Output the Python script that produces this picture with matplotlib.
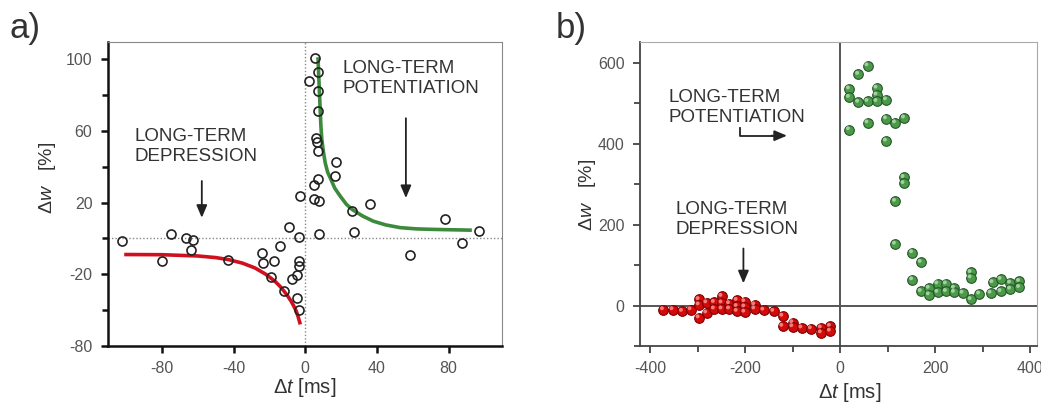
import matplotlib
matplotlib.use("Agg")
import matplotlib.pyplot as plt
from matplotlib.transforms import offset_copy

plt.rcParams["font.family"] = ["Liberation Sans", "DejaVu Sans"]
plt.rcParams["mathtext.fontset"] = "custom"
plt.rcParams["mathtext.rm"] = "Liberation Sans"
plt.rcParams["mathtext.it"] = "Liberation Sans:italic"
plt.rcParams["axes.unicode_minus"] = False

# ---- panel a: measured points (open circles) ----
a_x = [-102, -80, -75, -66.6, -62.7, -63.7, -43.2, -23.9, -23.3, -17.2, -19.2,
       -14, -11.6, -8.9, -7.4, -4.3, -3.7, -3.4, -3.4, -4.3, -3.4, -3.0,
       1.9, 5.6, 6.9, 7.1, 7.3, 5.8, 6.7, 7.3, 7.3, 4.7, 17.1, 16.4, 4.7, 7.5,
       35.9, 26.4, 27, 7.8, 77.8, 96.8, 87.5, 58.3]
a_y = [-1.5, -12.6, 2.2, 0, -1.1, -6.7, -12.2, -8, -13.9, -12.6, -21.3,
       -4.3, -29.3, 6.5, -22.8, -20.4, -12.6, -15.4, 0.7, -33.3, -40, 23.5,
       88, 100.4, 93, 82, 71, 56, 53.7, 49, 33, 30, 42.8, 34.6, 21.7, 20.7,
       18.9, 15.2, 3.7, 2.6, 10.9, 4.1, -2.4, -9.4]

# fitted curves, points
ltd_fit_x = [-100, -80, -60, -50, -43, -35, -28, -22, -17, -14, -12, -10, -8, -6.5, -5, -4, -3]
ltd_fit_y = [-9, -9.1, -9.8, -10.7, -11.8, -13.8, -16.5, -20, -23.8, -26.8, -29.2,
             -31.8, -34.8, -37.5, -40.5, -43.5, -47]
ltp_fit_x = [7.2, 7.5, 7.8, 8.1, 8.4, 8.8, 9.3, 10.2, 11.2, 12.5, 14, 16.5, 19.6,
             23, 26.4, 32, 38, 45, 53, 62, 72, 82, 92]
ltp_fit_y = [100, 92, 85, 78, 71, 62, 55, 48, 42, 37, 33.7, 28, 23.5,
             19, 16, 12.5, 9.6, 7.5, 6, 5.3, 5, 4.8, 4.6]

# ---- panel b: measured points (spheres) ----
b_ltd_x = [-372, -352, -332, -314, -297, -297, -297, -281, -281, -265, -265,
           -249, -249, -249, -233, -233, -217, -217, -217, -201, -201, -201,
           -180, -180, -161, -140, -121, -121, -100, -100, -81, -61, -40, -40, -21, -21]
b_ltd_y = [-10, -10, -14, -10, 15, 2, -30, 7, -18, 8, -8,
           23, 7, -8, 5, -8, 13, -2, -14, 10, -3, -16,
           2, -8, -11, -14, -26, -51, -42, -52, -55, -57, -55, -67, -51, -63]
b_ltp_x = [58, 38.5, 19, 19, 38.5, 58, 77, 77, 77, 97, 19, 58, 97, 116, 135, 97,
           134, 134, 116, 116, 152, 170, 152, 170, 187, 187, 205, 205, 223, 223,
           240, 240, 258, 275, 275, 275, 293, 317, 321, 338, 338, 358, 358, 377, 377]
b_ltp_y = [593, 572, 536, 515, 503, 505, 538, 521, 505, 509, 435, 452, 462, 452, 464, 407,
           317, 302, 258, 152, 131, 107, 64, 35, 43, 27, 54, 33, 54, 35,
           43, 33, 31, 82, 69, 15, 29, 31, 57, 65, 35, 56, 41, 60, 45]

TEXT_COLOR = "#333333"
TICK_COLOR = "#555555"
ARROW = dict(arrowstyle="-|>,head_length=0.75,head_width=0.32",
             color="#222222", lw=1.3, shrinkA=0, shrinkB=0)


def style_axes(ax, main_color, main_width, frame_color):
    for side in ("left", "bottom"):
        ax.spines[side].set_color(main_color)
        ax.spines[side].set_linewidth(main_width)
    for side in ("top", "right"):
        ax.spines[side].set_color(frame_color)
        ax.spines[side].set_linewidth(0.8)
    ax.tick_params(which="both", direction="out", top=False, right=False,
                   color=main_color, labelcolor=TICK_COLOR, labelsize=11.5)
    ax.tick_params(which="major", length=5, width=main_width, pad=6)
    ax.tick_params(which="minor", length=4, width=main_width)


def spheres(ax, x, y, face, edge, light):
    ax.scatter(x, y, s=48, color=face, edgecolors=edge, linewidths=0.8, zorder=3)
    hl = offset_copy(ax.transData, fig=ax.figure, x=-1.0, y=1.0, units="points")
    ax.scatter(x, y, s=8, color=light, edgecolors="none", alpha=0.8,
               transform=hl, zorder=4)


fig = plt.figure(figsize=(10.41, 4.05), dpi=100)
ax_a = fig.add_axes([0.1035, 0.1457, 0.379, 0.751])
ax_b = fig.add_axes([0.6148, 0.1457, 0.3818, 0.751])

# ---------------- panel a ----------------
ax_a.set_xlim(-110.2, 110)
ax_a.set_ylim(-59.5, 109.6)
ax_a.axhline(0, color="#888888", lw=1.0, ls=(0, (1, 1.5)), zorder=1)
ax_a.axvline(0, color="#888888", lw=1.0, ls=(0, (1, 1.5)), zorder=1)
ax_a.plot(ltd_fit_x, ltd_fit_y, color="#d0101e", lw=2.6, zorder=2)
ax_a.plot(ltp_fit_x, ltp_fit_y, color="#3c8a3c", lw=2.6, zorder=2)
ax_a.plot(a_x, a_y, ls="none", marker="o", ms=6.5, mfc="none", mec="#222222",
          mew=1.2, zorder=3)
style_axes(ax_a, "#111111", 1.8, "#888888")
ax_a.set_xticks([-80, -40, 0, 40, 80])
ax_a.set_yticks([100, 60, 20, -20, -60])
ax_a.set_yticklabels(["100", "60", "20", "-20", "-80"])
ax_a.set_yticks([80, 40, 0, -40], minor=True)

ax_a.text(-95.5, 61.5, "LONG-TERM\nDEPRESSION", ha="left", va="top",
          fontsize=13.5, color=TEXT_COLOR, linespacing=1.25)
ax_a.text(20.8, 99.5, "LONG-TERM\nPOTENTIATION", ha="left", va="top",
          fontsize=13.5, color=TEXT_COLOR, linespacing=1.25)
ax_a.annotate("", xy=(-57.7, 11.5), xytext=(-57.7, 32), arrowprops=ARROW)
ax_a.annotate("", xy=(56.2, 22.5), xytext=(56.2, 67), arrowprops=ARROW)
ax_a.set_xlabel("Δ$t$ [ms]", fontsize=14.5, color=TEXT_COLOR)
ax_a.xaxis.set_label_coords(0.5, -0.10)
ax_a.set_ylabel("Δ$w$   [%]", fontsize=14, color=TEXT_COLOR)
ax_a.yaxis.set_label_coords(-0.126, 0.552)

# ---------------- panel b ----------------
ax_b.set_xlim(-421, 415)
ax_b.set_ylim(-100, 652)
ax_b.axhline(0, color="#555555", lw=1.4, zorder=1)
ax_b.axvline(0, color="#555555", lw=1.4, zorder=1)
spheres(ax_b, b_ltd_x, b_ltd_y, "#d40a0a", "#7a0000", "#ff9a9a")
spheres(ax_b, b_ltp_x, b_ltp_y, "#4a9a48", "#25552a", "#b8e0b5")
style_axes(ax_b, "#444444", 1.3, "#aaaaaa")
ax_b.set_xticks([-400, -200, 0, 200, 400])
ax_b.set_xticks([-300, -100, 100, 300], minor=True)
ax_b.set_yticks([0, 200, 400, 600])
ax_b.set_yticks([-100, 100, 300, 500], minor=True)

ax_b.text(-362, 536, "LONG-TERM\nPOTENTIATION", ha="left", va="top",
          fontsize=13.5, color=TEXT_COLOR, linespacing=1.25)
ax_b.text(-347, 258, "LONG-TERM\nDEPRESSION", ha="left", va="top",
          fontsize=13.5, color=TEXT_COLOR, linespacing=1.25)
ax_b.plot([-210.5, -210.5, -140], [440, 420, 420], color="#222222", lw=1.3)
ax_b.annotate("", xy=(-112, 420), xytext=(-145, 420), arrowprops=ARROW)
ax_b.annotate("", xy=(-203.5, 55), xytext=(-203.5, 141), arrowprops=ARROW)
ax_b.set_xlabel("Δ$t$ [ms]", fontsize=14.5, color=TEXT_COLOR)
ax_b.xaxis.set_label_coords(0.528, -0.115)
ax_b.set_ylabel("Δ$w$   [%]", fontsize=14, color=TEXT_COLOR)
ax_b.yaxis.set_label_coords(-0.106, 0.496)

fig.text(0.009, 0.97, "a)", fontsize=25, color=TEXT_COLOR, va="top", ha="left")
fig.text(0.534, 0.97, "b)", fontsize=25, color=TEXT_COLOR, va="top", ha="left")

fig.savefig("out.png", dpi=100)
